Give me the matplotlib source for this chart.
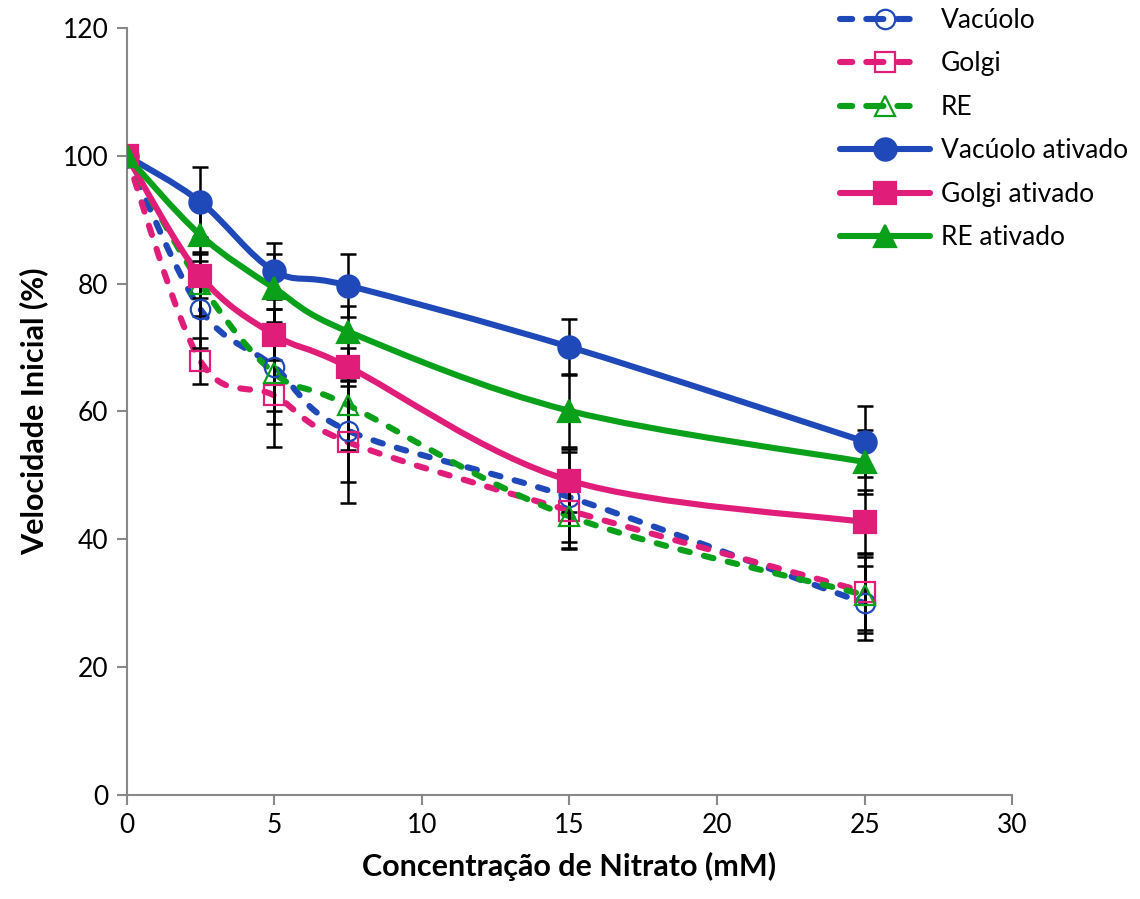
import matplotlib.pyplot as plt
from matplotlib.path import Path
from matplotlib.patches import PathPatch
from matplotlib.lines import Line2D

# Dados
nitrato = [0, 2.5, 5, 7.5, 15, 25]

vacuolo = [100, 76.0, 67.0, 57.0, 46.6, 30.0]
golgi = [100, 67.9, 62.5, 55.2, 44.5, 31.8]
re = [100, 80.0, 66.0, 61.0, 43.6, 31.3]
vacuolo_at = [100, 92.8, 82.0, 79.7, 70.1, 55.3]
golgi_at = [100, 81.2, 72.0, 67.0, 49.2, 42.7]
re_at = [100, 87.6, 79.3, 72.5, 60.1, 52.1]

err_vacuolo = [0, 6.0, 9.0, 8.0, 7.0, 5.8]
err_golgi = [0, 3.6, 8.0, 9.5, 6.0, 6.0]
err_re = [0, 5.0, 6.0, 7.0, 5.0, 6.0]
err_vacuolo_at = [0, 5.5, 4.4, 4.9, 4.3, 5.5]
err_golgi_at = [0, 3.5, 4.0, 3.0, 5.0, 5.0]
err_re_at = [0, 4.0, 5.3, 4.0, 5.6, 5.0]

azul = "#1F48B8"
rosa = "#E01E7A"
verde = "#0AA01A"

plt.rcParams["font.family"] = ["Lato", "DejaVu Sans"]

fig = plt.figure(figsize=(11.4, 8.99), dpi=100)
ax = fig.add_axes([0.111, 0.1157, 0.777, 0.8532])


def curva_suave(x, y):
    # curva tipo Excel (Catmull-Rom em Bezier)
    pts = list(zip(x, y))
    verts = [pts[0]]
    codes = [Path.MOVETO]
    n = len(pts)
    for i in range(n - 1):
        p0 = pts[i - 1] if i > 0 else pts[i]
        p1 = pts[i]
        p2 = pts[i + 1]
        p3 = pts[i + 2] if i + 2 < n else pts[i + 1]
        c1 = (p1[0] + (p2[0] - p0[0]) / 6, p1[1] + (p2[1] - p0[1]) / 6)
        c2 = (p2[0] - (p3[0] - p1[0]) / 6, p2[1] - (p3[1] - p1[1]) / 6)
        verts += [c1, c2, p2]
        codes += [Path.CURVE4] * 3
    return Path(verts, codes)


tracejado = (0, (1.6, 2.4))
tracejado_leg = (0, (2.0, 2.3, 2.8, 2.3, 2.0, 6))
lw = 4.4

series = [
    ("Vacúolo", vacuolo, err_vacuolo, azul, tracejado, "o", "none"),
    ("Golgi", golgi, err_golgi, rosa, tracejado, "s", "none"),
    ("RE", re, err_re, verde, tracejado, "^", "none"),
    ("Vacúolo ativado", vacuolo_at, err_vacuolo_at, azul, "-", "o", azul),
    ("Golgi ativado", golgi_at, err_golgi_at, rosa, "-", "s", rosa),
    ("RE ativado", re_at, err_re_at, verde, "-", "^", verde),
]

handles = []
for nome, y, err, cor, ls, mk, face in series:
    patch = PathPatch(curva_suave(nitrato, y), facecolor="none", edgecolor=cor,
                      lw=lw, linestyle=ls, capstyle="round", zorder=2)
    ax.add_patch(patch)
    ax.errorbar(nitrato, y, yerr=err, fmt="none", ecolor="black",
                elinewidth=1.8, capsize=6, capthick=1.8, zorder=3)
    ms = 16 if face != "none" else 14
    ax.plot(nitrato, y, linestyle="none", marker=mk, markersize=ms,
            markerfacecolor=face, markeredgecolor=cor,
            markeredgewidth=1.6, zorder=4)
    h = Line2D([], [], color=cor, lw=lw,
               linestyle=tracejado_leg if ls != "-" else "-", marker=mk,
               markersize=ms, markerfacecolor=face, markeredgecolor=cor,
               markeredgewidth=1.6, dash_capstyle="round",
               solid_capstyle="round")
    handles.append(h)

ax.set_xlim(0, 30)
ax.set_ylim(0, 120)
ax.set_xticks([0, 5, 10, 15, 20, 25, 30])
ax.set_yticks([0, 20, 40, 60, 80, 100, 120])
ax.tick_params(labelsize=19, color="#888888", length=7, width=1.5, pad=6)
for s in ["top", "right"]:
    ax.spines[s].set_visible(False)
for s in ["left", "bottom"]:
    ax.spines[s].set_color("#888888")
    ax.spines[s].set_linewidth(1.5)

ax.set_xlabel("Concentração de Nitrato (mM)", fontsize=22, fontweight="bold", labelpad=10)
ax.set_ylabel("Velocidade Inicial (%)", fontsize=22, fontweight="bold", labelpad=10)

fig.legend(handles=handles, labels=[s[0] for s in series],
           loc="upper left", bbox_to_anchor=(0.728, 1.003), borderaxespad=0,
           frameon=False, fontsize=19, handlelength=3.4, labelspacing=0.7,
           handletextpad=0.4)

fig.savefig("out.png", dpi=100)
